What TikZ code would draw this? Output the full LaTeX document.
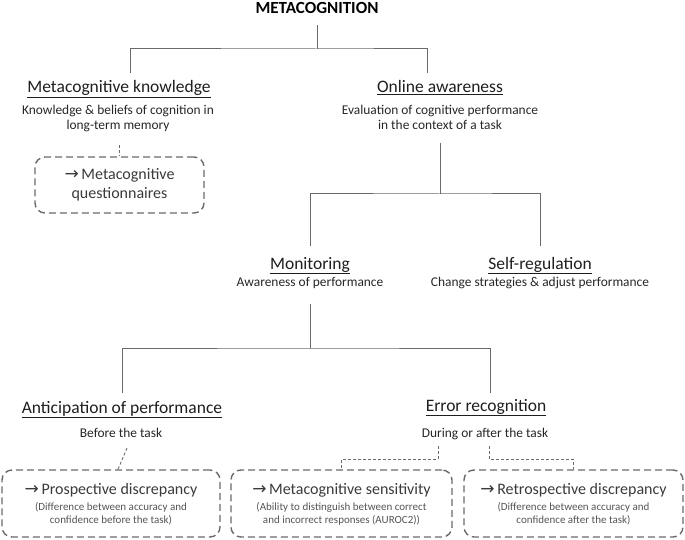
\documentclass[tikz,border=0pt]{standalone}
\usepackage{fontspec}
\setmainfont{Carlito}
\newfontfamily\arrfont{DejaVu Sans}
\definecolor{linec}{HTML}{6A6A6A}
\definecolor{headc}{HTML}{1E1E1E}
\definecolor{descc}{HTML}{262626}
\definecolor{bmainc}{HTML}{3A3A3A}
\definecolor{bsubc}{HTML}{555555}
\tikzset{
  tree/.style={draw=linec, line width=1pt},
  dline/.style={draw=linec, line width=0.9pt, dash pattern=on 3pt off 2pt},
  dbox/.style={draw=linec, line width=1.4pt, dash pattern=on 7pt off 4pt, rounded corners=10pt},
  titlest/.style={anchor=base, inner sep=0pt, text=black, font=\bfseries\fontsize{17}{20}\selectfont},
  head/.style={anchor=base, inner sep=0pt, text=headc, font=\fontsize{17.5}{21}\selectfont},
  desc/.style={anchor=base, inner sep=0pt, text=descc, font=\fontsize{13.4}{16}\selectfont},
  bmain/.style={anchor=base, inner sep=0pt, text=bmainc, font=\fontsize{16}{19}\selectfont},
  bsub/.style={anchor=base, inner sep=0pt, text=bsubc, font=\fontsize{11}{13}\selectfont},
}
\newcommand{\arr}{{\arrfont\fontsize{17}{19}\selectfont →}\,}
\begin{document}
\begin{tikzpicture}[x=1pt,y=-1pt]
\useasboundingbox (0,0) rectangle (685,540);

% title
\node[titlest] (title) at (317,14) {METACOGNITION};

% level 1
\node[head] (mk) at (119,93) {\underline{Metacognitive knowledge}};
\node[desc] (mkd1) at (118,115) {Knowledge \& beliefs of cognition in};
\node[desc] (mkd2) at (118,130) {long-term memory};
\node[head] (oa) at (440,93) {\underline{Online awareness}};
\node[desc] (oad1) at (440,115) {Evaluation of cognitive performance};
\node[desc] (oad2) at (440,130) {in the context of a task};

% questionnaire box
\node[dbox, minimum width=169pt, minimum height=56pt] (qbox) at (119.5,185) {};
\node[bmain] (q1) at (119.5,180) {\arr Metacognitive};
\node[bmain] (q2) at (119.5,199) {questionnaires};

% level 2
\node[head] (mo) at (310,269) {\underline{Monitoring}};
\node[desc] (mod) at (310,286) {Awareness of performance};
\node[head] (sr) at (540,269) {\underline{Self-regulation}};
\node[desc] (srd) at (540,286) {Change strategies \& adjust performance};

% level 3
\node[head] (an) at (122,413) {\underline{Anticipation of performance}};
\node[desc] (and) at (121,437) {Before the task};
\node[head] (er) at (486,411) {\underline{Error recognition}};
\node[desc] (erd) at (485,437) {During or after the task};

% bottom boxes
\node[dbox, minimum width=218pt, minimum height=67pt] (boxA) at (111,503.5) {};
\node[bmain] (a1) at (111,494) {\arr Prospective discrepancy};
\node[bsub] (a2) at (111,510) {(Difference between accuracy and};
\node[bsub] (a3) at (111,523) {confidence before the task)};

\node[dbox, minimum width=221pt, minimum height=67pt] (boxB) at (341.5,503.5) {};
\node[bmain] (b1) at (341.5,494) {\arr Metacognitive sensitivity};
\node[bsub] (b2) at (341.5,510) {(Ability to distinguish between correct};
\node[bsub] (b3) at (341.5,523) {and incorrect responses (AUROC2))};

\node[dbox, minimum width=219pt, minimum height=67pt] (boxC) at (573.5,503.5) {};
\node[bmain] (c1) at (573.5,494) {\arr Retrospective discrepancy};
\node[bsub] (c2) at (573.5,510) {(Difference between accuracy and};
\node[bsub] (c3) at (573.5,523) {confidence after the task)};

% junction / end coordinates
\coordinate (tout) at ([yshift=-11pt]title.base);
\coordinate (j1) at (317,49);
\coordinate (mkin) at ([xshift=11pt,yshift=20pt]mk.base);
\coordinate (oain) at ([xshift=-13pt,yshift=20pt]oa.base);
\coordinate (oaout) at ([yshift=-13pt]oad2.base);
\coordinate (j2) at (440,194);
\coordinate (moin) at ([yshift=23pt]mo.base);
\coordinate (srin) at ([yshift=23pt]sr.base);
\coordinate (moout) at ([yshift=-18pt]mod.base);
\coordinate (j3) at (310,348);
\coordinate (anin) at ([yshift=20pt]an.base);
\coordinate (erin) at ([xshift=4pt,yshift=18pt]er.base);
\coordinate (mkout) at ([xshift=1pt,yshift=-15pt]mkd2.base);
\coordinate (anout) at ([xshift=6pt,yshift=-11pt]and.base);
\coordinate (erout1) at ([xshift=-47pt,yshift=-9pt]erd.base);
\coordinate (erout2) at ([xshift=4pt,yshift=-9pt]erd.base);

% tree connectors
\draw[tree] (tout) -- (j1);
\draw[tree] (mkin) |- (j1) -| (oain);
\draw[tree] (oaout) -- (j2);
\draw[tree] (moin) |- (j2) -| (srin);
\draw[tree] (moout) -- (j3);
\draw[tree] (anin) |- (j3) -| (erin);

% dashed connectors
\draw[dline] (mkout) -- (mkout |- qbox.north);
\draw[dline] (anout) -- ([xshift=7pt]boxA.north);
\draw[dline] (erout1) -- ++(0,13) -| (boxB.north);
\draw[dline] (erout2) -- ++(0,13) -| (boxC.north);
\end{tikzpicture}
\end{document}
